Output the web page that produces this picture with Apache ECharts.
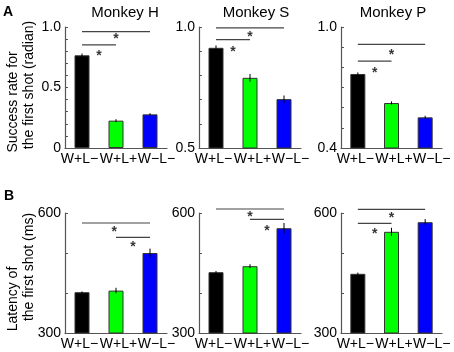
<!DOCTYPE html>
<html>
<head>
<meta charset="utf-8">
<script src="https://cdn.jsdelivr.net/npm/echarts@6/dist/echarts.min.js"></script>
<style>
  html, body { margin: 0; padding: 0; background: #fff; }
  #chart { width: 454px; height: 352px; }
</style>
</head>
<body>
<div id="chart"></div>
<script>
// conditions on the x axis
var categories = ['W+L\u2212', 'W+L+', 'W\u2212L\u2212'];
var barColors = ['#000000', '#00ff00', '#0000ff'];

// A: success rate for the first shot (radian)
var successH = [0.766, 0.226, 0.278];
var successHErr = [0.015, 0.012, 0.01];
var successS = [0.914, 0.79, 0.702];
var successSErr = [0.01, 0.016, 0.015];
var successP = [0.767, 0.623, 0.552];
var successPErr = [0.008, 0.008, 0.008];

// B: latency of the first shot (ms)
var latencyH = [402, 406, 500];
var latencyHErr = [2, 7, 11];
var latencyS = [452, 467, 562];
var latencySErr = [3, 5, 13];
var latencyP = [448, 553, 577];
var latencyPErr = [3, 10, 8];

// significance brackets: [from, to, lineY, starX, starY]
var sigSuccessH = [[0, 2, 0.961, 1, 0.922], [0, 1, 0.852, 0.5, 0.78]];
var sigSuccessS = [[0, 2, 0.996, 1, 0.972], [0, 1, 0.948, 0.5, 0.91]];
var sigSuccessP = [[0, 2, 0.914, 1, 0.876], [0, 1, 0.831, 0.5, 0.787]];
var sigLatencyH = [[0, 2, 575, 0.95, 559], [1, 2, 539, 1.5, 522]];
var sigLatencyS = [[0, 2, 610, 1, 597], [1, 2, 584, 1.5, 562]];
var sigLatencyP = [[0, 2, 609, 1, 594], [0, 1, 574, 0.5, 554]];

// y axis ranges and labelled ticks
var rangeSuccessH = [0, 1, 0.1];
var rangeSuccessS = [0.5, 1, 0.1];
var rangeSuccessP = [0.4, 1, 0.1];
var rangeLatency = [300, 600, 100];
var tickLabelsSuccessH = [[0, '0'], [0.5, '0.5'], [1, '1.0']];
var tickLabelsSuccessS = [[0.5, '0.5'], [1, '1.0']];
var tickLabelsSuccessP = [[0.4, '0.4'], [1, '1.0']];
var tickLabelsLatency = [[300, '300'], [600, '600']];

var monkeys = ['Monkey H', 'Monkey S', 'Monkey P'];

var FONT = '"Liberation Sans", Arial, sans-serif';
var AXIS_COLOR = '#555';

// the x labels sit a little wider apart than the bars
var labelPads = [[0, 5, 0, 0], [0, 0, 0, 5], [0, 0, 0, 13]];

var panels = [
    { rect: [65, 27, 102, 121], vals: successH, err: successHErr, sig: sigSuccessH, range: rangeSuccessH, labels: tickLabelsSuccessH },
    { rect: [199, 27, 102, 121], vals: successS, err: successSErr, sig: sigSuccessS, range: rangeSuccessS, labels: tickLabelsSuccessS },
    { rect: [341, 27, 101, 121], vals: successP, err: successPErr, sig: sigSuccessP, range: rangeSuccessP, labels: tickLabelsSuccessP },
    { rect: [65, 213, 102, 120], vals: latencyH, err: latencyHErr, sig: sigLatencyH, range: rangeLatency, labels: tickLabelsLatency },
    { rect: [199, 213, 102, 120], vals: latencyS, err: latencySErr, sig: sigLatencyS, range: rangeLatency, labels: tickLabelsLatency },
    { rect: [341, 213, 101, 120], vals: latencyP, err: latencyPErr, sig: sigLatencyP, range: rangeLatency, labels: tickLabelsLatency }
];

var grid = [], xAxis = [], yAxis = [], series = [];

panels.forEach(function (p, i) {
    grid.push({
        left: p.rect[0], top: p.rect[1], width: p.rect[2], height: p.rect[3],
        containLabel: false, outerBoundsMode: 'none'
    });

    // visible category axis for the bars
    xAxis.push({
        type: 'category', gridIndex: i,
        data: categories.map(function (c, k) {
            return { value: c, textStyle: { padding: labelPads[k] } };
        }),
        axisLine: { onZero: false, lineStyle: { color: AXIS_COLOR, width: 1.2 } },
        axisTick: { show: false },
        axisLabel: { color: '#000', fontSize: 14, fontFamily: FONT, margin: 4, interval: 0, hideOverlap: false }
    });
    // hidden value axis for brackets and stars
    xAxis.push({ type: 'value', gridIndex: i, min: -0.5, max: 2.5, show: false });

    var labels = p.labels;
    yAxis.push({
        type: 'value', gridIndex: i,
        min: p.range[0], max: p.range[1], interval: p.range[2],
        splitLine: { show: false },
        axisLine: { show: true, onZero: false, lineStyle: { color: AXIS_COLOR, width: 1.2 } },
        axisTick: { show: true, inside: true, length: 3, lineStyle: { color: AXIS_COLOR } },
        axisLabel: {
            color: '#000', fontSize: 14, fontFamily: FONT, margin: 4, showMinLabel: true, showMaxLabel: true,
            formatter: function (v) {
                for (var k = 0; k < labels.length; k++) {
                    if (Math.abs(labels[k][0] - v) < 1e-6) return labels[k][1];
                }
                return '';
            }
        }
    });

    series.push({
        type: 'bar', xAxisIndex: 2 * i, yAxisIndex: i, barWidth: 15,
        data: p.vals.map(function (v, k) {
            return { value: v, itemStyle: { color: barColors[k], borderColor: '#333', borderWidth: 1 } };
        }),
        silent: true
    });

    // error bars
    series.push({
        type: 'custom', xAxisIndex: 2 * i, yAxisIndex: i, z: 5, silent: true,
        data: p.vals.map(function (v, k) { return [k, v - p.err[k], v + p.err[k]]; }),
        renderItem: function (params, api) {
            var lo = api.coord([api.value(0), api.value(1)]);
            var hi = api.coord([api.value(0), api.value(2)]);
            return {
                type: 'line',
                shape: { x1: lo[0], y1: lo[1], x2: hi[0], y2: hi[1] },
                style: { stroke: '#000', lineWidth: 1 }
            };
        }
    });

    p.sig.forEach(function (s) {
        series.push({
            type: 'line', xAxisIndex: 2 * i + 1, yAxisIndex: i, clip: false, silent: true,
            symbol: 'none', data: [[s[0], s[2]], [s[1], s[2]]],
            lineStyle: { color: '#444', width: 1.2 }
        });
        series.push({
            type: 'scatter', xAxisIndex: 2 * i + 1, yAxisIndex: i, clip: false, silent: true,
            symbolSize: 0, data: [[s[3], s[4]]],
            label: {
                show: true, position: 'inside', formatter: '*', color: '#000',
                fontSize: 14, fontWeight: 'bold', fontFamily: FONT, offset: [0, 3]
            }
        });
    });
});

var graphic = [];
function addText(text, x, y, size, bold, rotate) {
    graphic.push({
        type: 'text', x: x, y: y, rotation: rotate ? Math.PI / 2 : 0,
        style: {
            text: text, fill: '#000', fontSize: size, fontFamily: FONT,
            fontWeight: bold ? 'bold' : 'normal', textAlign: 'center', textVerticalAlign: 'middle'
        }
    });
}
addText('A', 8, 12, 14, true);
addText('B', 9, 196, 14, true);
addText(monkeys[0], 125, 12.5, 15);
addText(monkeys[1], 256, 12.5, 15);
addText(monkeys[2], 393, 12.5, 15);
addText('Success rate for', 13, 102, 14, false, true);
addText('the first shot (radian)', 29, 85, 14, false, true);
addText('Latency of', 13, 299, 14, false, true);
addText('the first shot (ms)', 29, 267, 14, false, true);

var chart = echarts.init(document.getElementById('chart'));
chart.setOption({
    animation: false,
    grid: grid,
    xAxis: xAxis,
    yAxis: yAxis,
    series: series,
    graphic: graphic
});
</script>
</body>
</html>
